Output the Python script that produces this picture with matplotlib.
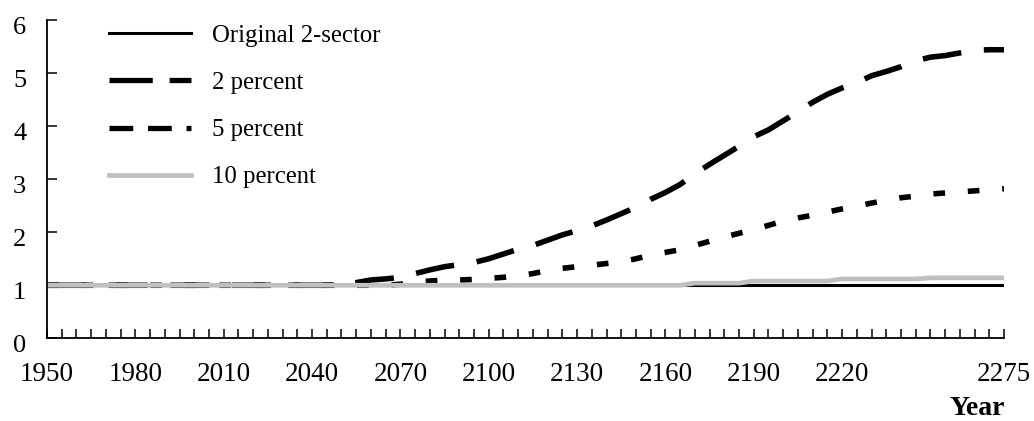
import numpy as np
import matplotlib
matplotlib.use("Agg")
import matplotlib.pyplot as plt
from matplotlib.lines import Line2D
from matplotlib.transforms import ScaledTranslation

plt.rcParams["font.family"] = ["Liberation Serif", "DejaVu Serif"]

years = np.arange(1950, 2276, 5)

original = [1.0] * len(years)

pct2 = [1.0] * 20 + [
    1.02, 1.05, 1.10, 1.12, 1.15, 1.22, 1.29, 1.35, 1.39, 1.43,
    1.50, 1.59, 1.68, 1.75, 1.85, 1.95, 2.03, 2.12, 2.23, 2.35,
    2.47, 2.62, 2.75, 2.90, 3.10, 3.28, 3.45, 3.62, 3.80, 3.93,
    4.10, 4.27, 4.45, 4.60, 4.72, 4.82, 4.95, 5.03, 5.12, 5.23,
    5.30, 5.33, 5.38, 5.43, 5.44, 5.44]

pct5 = [1.0] * 24 + [
    1.02, 1.06, 1.08, 1.10, 1.10, 1.11, 1.13, 1.15, 1.18, 1.22,
    1.28, 1.32, 1.35, 1.38, 1.41, 1.44, 1.50, 1.57, 1.62, 1.67,
    1.75, 1.83, 1.91, 1.98, 2.05, 2.13, 2.21, 2.27, 2.32, 2.38,
    2.44, 2.49, 2.55, 2.60, 2.65, 2.68, 2.72, 2.74, 2.76, 2.78,
    2.80, 2.82]

pct10 = [1.0] * 44 + [
    1.04, 1.04, 1.04, 1.04, 1.08, 1.08, 1.08, 1.08, 1.08, 1.08,
    1.12, 1.12, 1.12, 1.12, 1.12, 1.12, 1.14, 1.14, 1.14, 1.14,
    1.14, 1.14]

labels = ["Original 2-sector", "2 percent", "5 percent", "10 percent"]
label_years = [1950, 1980, 2010, 2040, 2070, 2100, 2130, 2160, 2190, 2220, 2275]

fig = plt.figure(figsize=(10.34, 4.21), dpi=100)
ax = fig.add_axes([0.0455, 0.1964, 0.9255, 0.756])

ax.plot(years, original, color="black", lw=2.2, solid_capstyle="butt")
l2, = ax.plot(years, pct2, color="black", lw=4.0, dash_capstyle="butt")
l2.set_dashes([7.0, 4.1])
l5, = ax.plot(years, pct5, color="black", lw=4.0, dash_capstyle="butt")
l5.set_dashes([2.1, 4.1])
ax.plot(years, pct10, color="#c0c0c0", lw=3.4, solid_capstyle="butt")

ax.set_xlim(1950, 2275)
ax.set_ylim(0, 6)

ax.set_xticks(years)
ax.set_xticklabels([str(y) if y in label_years else "" for y in years])
ax.set_yticks(range(0, 7))
ax.tick_params(axis="x", direction="in", length=6.5, width=1.1, pad=17,
               labelsize=19.5)
ax.tick_params(axis="y", direction="in", length=7, width=1.1, pad=15,
               labelsize=19)

# Excel-style: y labels sit a little below their ticks
shift = ScaledTranslation(0, -4 / 72, fig.dpi_scale_trans)
for t in ax.get_yticklabels():
    t.set_transform(t.get_transform() + shift)

for s in ["top", "right"]:
    ax.spines[s].set_visible(False)
for s in ["left", "bottom"]:
    ax.spines[s].set_linewidth(1.3)

handles = [
    Line2D([], [], color="black", lw=2.2),
    Line2D([], [], color="black", lw=3.8, dashes=[8.2, 3.2], dash_capstyle="butt"),
    Line2D([], [], color="black", lw=3.8, dashes=[4.5, 2.8], dash_capstyle="butt"),
    Line2D([], [], color="#c0c0c0", lw=3.4),
]
ax.legend(handles, labels, loc="upper left", bbox_to_anchor=(0.065, 0.985),
          frameon=False, fontsize=17.8, handlelength=3.3, handletextpad=0.85,
          labelspacing=1.0, borderpad=0, borderaxespad=0)

fig.text(0.9715, 0.03, "Year", fontsize=20, fontweight="bold",
         ha="right", va="center")

fig.savefig("out.png", dpi=100)
